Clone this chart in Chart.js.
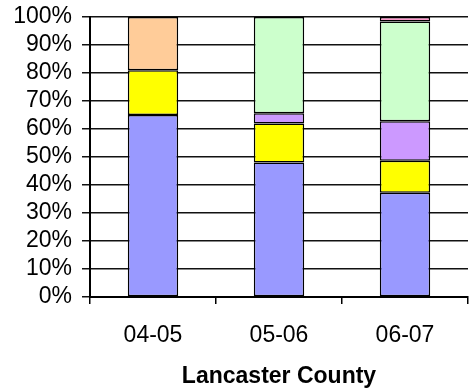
<!DOCTYPE html>
<html>
<head>
<meta charset="utf-8">
<script src="https://cdn.jsdelivr.net/npm/chart.js@4/dist/chart.umd.min.js"></script>
<style>
  html, body { margin: 0; padding: 0; background: #fff; }
  #wrap { width: 469px; height: 390px; }
</style>
</head>
<body>
<div id="wrap"><canvas id="c" width="469" height="390"></canvas></div>
<script>
// Share of each group per school year (percent of the total)
const years = ['04-05', '05-06', '06-07'];
const groupA = [65, 48, 37.2];
const groupB = [16, 14, 11.5];
const groupC = [null, 3.6, 14.1];
const groupD = [null, 34.4, 35.6];
const groupE = [19, null, null];
const groupF = [null, null, 1.6];
const yMin = 0, yMax = 100, yStep = 10;
const axisTitle = 'Lancaster County';

const FONT = '"Liberation Sans", Arial, sans-serif';

function series(label, data, color) {
  return {
    label, data,
    backgroundColor: color,
    borderColor: '#000',
    borderWidth: 1.5,
    borderSkipped: false,
    barPercentage: 0.4,
    categoryPercentage: 1.0
  };
}

new Chart(document.getElementById('c'), {
  type: 'bar',
  data: {
    labels: years,
    datasets: [
      series('A', groupA, '#9999FF'),
      series('B', groupB, '#FFFF00'),
      series('C', groupC, '#CC99FF'),
      series('D', groupD, '#CCFFCC'),
      series('E', groupE, '#FFCC99'),
      series('F', groupF, '#FF99CC')
    ]
  },
  options: {
    responsive: false,
    animation: false,
    devicePixelRatio: 1,
    layout: { padding: { top: 17, right: 1, left: 0, bottom: 0 } },
    plugins: {
      legend: { display: false },
      tooltip: { enabled: false }
    },
    scales: {
      x: {
        stacked: true,
        offset: true,
        grid: {
          offset: true,
          drawOnChartArea: false,
          drawTicks: true,
          tickLength: 7,
          color: '#000',
          lineWidth: 1.5
        },
        border: { display: true, color: '#000', width: 2 },
        ticks: {
          color: '#000',
          padding: 18,
          font: { family: FONT, size: 23 }
        },
        title: {
          display: true,
          text: axisTitle,
          color: '#000',
          padding: { top: 4, bottom: 0 },
          font: { family: FONT, size: 23, weight: 'bold' }
        },
        afterFit: (s) => { s.height = 93; }
      },
      y: {
        stacked: true,
        min: yMin,
        max: yMax,
        grid: {
          color: '#111',
          lineWidth: 1.5,
          drawTicks: true,
          tickLength: 8
        },
        border: { display: true, color: '#000', width: 2 },
        ticks: {
          stepSize: yStep,
          autoSkip: false,
          color: '#000',
          padding: 10,
          font: { family: FONT, size: 23 },
          callback: (v) => v + '%'
        },
        afterFit: (s) => { s.width = 90; s.paddingTop = 0; s.paddingBottom = 0; }
      }
    }
  }
});
</script>
</body>
</html>
